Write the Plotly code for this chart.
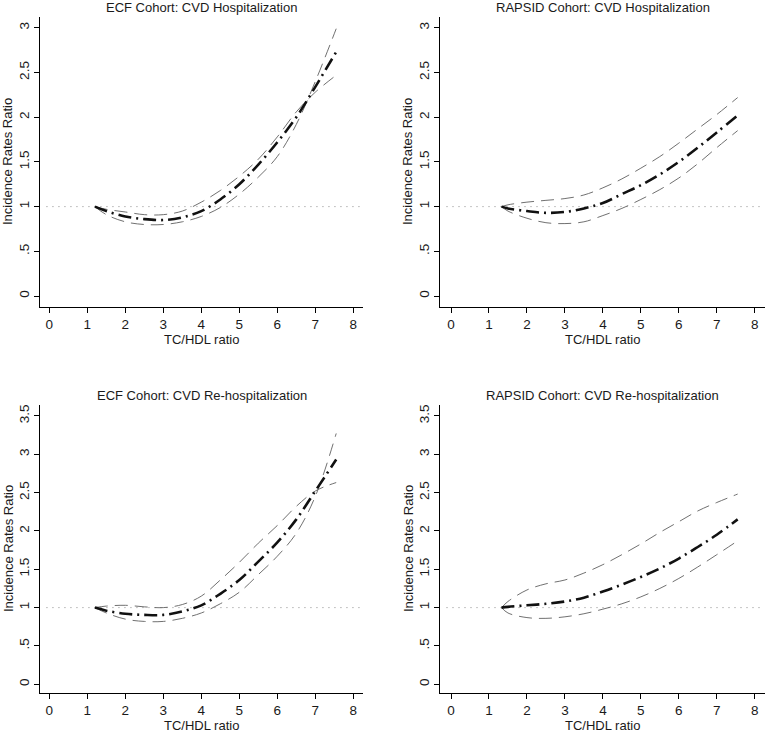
import plotly.graph_objects as go

# ---------------- data ----------------
x_ecf = [1.2, 1.5, 2, 2.5, 3, 3.5, 4, 4.5, 5, 5.5, 6, 6.5, 7, 7.55]
x_rap = [1.33, 1.5, 2, 2.5, 3, 3.5, 4, 4.5, 5, 5.5, 6, 6.5, 7, 7.55]

ecf_hosp_irr = [1.0, 0.95, 0.89, 0.86, 0.85, 0.88, 0.95, 1.08, 1.25, 1.47, 1.72, 2.0, 2.34, 2.73]
ecf_hosp_ci_a = [1.0, 0.97, 0.94, 0.91, 0.91, 0.95, 1.05, 1.18, 1.34, 1.53, 1.78, 2.06, 2.28, 2.47]
ecf_hosp_ci_b = [1.0, 0.91, 0.83, 0.80, 0.80, 0.83, 0.89, 0.99, 1.14, 1.33, 1.56, 1.92, 2.40, 2.99]

rap_hosp_irr = [1.0, 0.98, 0.95, 0.93, 0.94, 0.98, 1.04, 1.14, 1.24, 1.36, 1.50, 1.66, 1.83, 2.02]
rap_hosp_ci_a = [1.0, 1.02, 1.05, 1.07, 1.09, 1.13, 1.21, 1.31, 1.43, 1.56, 1.71, 1.87, 2.03, 2.22]
rap_hosp_ci_b = [1.0, 0.95, 0.87, 0.82, 0.81, 0.83, 0.90, 0.98, 1.08, 1.19, 1.32, 1.48, 1.66, 1.85]

ecf_rehosp_irr = [1.0, 0.96, 0.92, 0.905, 0.905, 0.95, 1.03, 1.18, 1.36, 1.60, 1.85, 2.15, 2.52, 2.93]
ecf_rehosp_ci_a = [1.0, 1.02, 1.03, 1.01, 1.0, 1.04, 1.15, 1.36, 1.59, 1.84, 2.07, 2.32, 2.52, 2.63]
ecf_rehosp_ci_b = [1.0, 0.93, 0.85, 0.82, 0.82, 0.86, 0.93, 1.05, 1.20, 1.43, 1.67, 1.97, 2.45, 3.27]

rap_rehosp_irr = [1.0, 1.01, 1.03, 1.05, 1.08, 1.13, 1.21, 1.30, 1.40, 1.51, 1.64, 1.79, 1.95, 2.15]
rap_rehosp_ci_a = [1.0, 1.08, 1.23, 1.31, 1.36, 1.45, 1.56, 1.69, 1.83, 1.98, 2.12, 2.26, 2.37, 2.48]
rap_rehosp_ci_b = [1.0, 0.93, 0.87, 0.86, 0.88, 0.92, 0.98, 1.05, 1.14, 1.25, 1.38, 1.53, 1.69, 1.87]

titles = ["ECF Cohort: CVD Hospitalization", "RAPSID Cohort: CVD Hospitalization",
          "ECF Cohort: CVD Re-hospitalization", "RAPSID Cohort: CVD Re-hospitalization"]
x_ticks = [0, 1, 2, 3, 4, 5, 6, 7, 8]
y_ticks_top = [0, 0.5, 1, 1.5, 2, 2.5, 3]
y_text_top = ["0", ".5", "1", "1.5", "2", "2.5", "3"]
y_ticks_bot = [0, 0.5, 1, 1.5, 2, 2.5, 3, 3.5]
y_text_bot = ["0", ".5", "1", "1.5", "2", "2.5", "3", "3.5"]
x_title = "TC/HDL ratio"
y_title = "Incidence Rates Ratio"

# ---------------- layout geometry ----------------
W, H = 766, 733
def fx(px): return px / W
def fy(py): return 1 - py / H

panels = [
    dict(x=x_ecf, c=ecf_hosp_irr, a=ecf_hosp_ci_a, b=ecf_hosp_ci_b,
         xd=[fx(40), fx(363)], yd=[fy(307), fy(17)], xr=[-0.245, 8.255], yr=[-0.123, 3.121],
         yt=y_ticks_top, ytt=y_text_top, top=17, bot=307, toff=32),
    dict(x=x_rap, c=rap_hosp_irr, a=rap_hosp_ci_a, b=rap_hosp_ci_b,
         xd=[fx(440), fx(765)], yd=[fy(307), fy(17)], xr=[-0.29, 8.27], yr=[-0.123, 3.121],
         yt=y_ticks_top, ytt=y_text_top, top=17, bot=307, toff=32),
    dict(x=x_ecf, c=ecf_rehosp_irr, a=ecf_rehosp_ci_a, b=ecf_rehosp_ci_b,
         xd=[fx(40), fx(363)], yd=[fy(693), fy(405)], xr=[-0.245, 8.255], yr=[-0.113, 3.641],
         yt=y_ticks_bot, ytt=y_text_bot, top=405, bot=693, toff=32),
    dict(x=x_rap, c=rap_rehosp_irr, a=rap_rehosp_ci_a, b=rap_rehosp_ci_b,
         xd=[fx(440), fx(765)], yd=[fy(693), fy(405)], xr=[-0.29, 8.27], yr=[-0.113, 3.641],
         yt=y_ticks_bot, ytt=y_text_bot, top=405, bot=693, toff=32),
]

FONT = "Liberation Sans, Arial, Helvetica, sans-serif"
fig = go.Figure()
layout = dict(width=W, height=H, margin=dict(l=0, r=0, t=0, b=0, autoexpand=False),
              paper_bgcolor="white", plot_bgcolor="white", showlegend=False,
              font=dict(family=FONT, size=13, color="#1a1a1a"))
annotations = []
shapes = []

for i, p in enumerate(panels):
    n = i + 1
    xa = "x" if n == 1 else f"x{n}"
    ya = "y" if n == 1 else f"y{n}"
    # CI lines
    for key in ("a", "b"):
        fig.add_trace(go.Scatter(x=p["x"], y=p[key], mode="lines", xaxis=xa, yaxis=ya,
                                 line=dict(color="#606060", width=0.9, dash="13px,7px", shape="spline"),
                                 hoverinfo="skip"))
    # IRR line
    fig.add_trace(go.Scatter(x=p["x"], y=p["c"], mode="lines", xaxis=xa, yaxis=ya,
                             line=dict(color="#111111", width=2.6, dash="13px,5px,2px,5px", shape="spline")))
    axcommon = dict(showgrid=False, zeroline=False, showline=True, linecolor="black", linewidth=1,
                    ticks="outside", ticklen=5, tickcolor="black", tickwidth=1, automargin=False,
                    tickfont=dict(family=FONT, size=13.5, color="#1a1a1a"))
    layout["xaxis" if n == 1 else f"xaxis{n}"] = dict(
        domain=p["xd"], range=p["xr"], anchor=ya, tickvals=x_ticks,
        ticktext=[str(t) for t in x_ticks], ticklabeloverflow="allow", **axcommon)
    layout["yaxis" if n == 1 else f"yaxis{n}"] = dict(
        domain=p["yd"], range=p["yr"], anchor=xa, tickvals=p["yt"], ticktext=p["ytt"],
        tickangle=-90, **axcommon)
    # reference line at 1
    shapes.append(dict(type="line", xref=f"{xa} domain", yref=ya, x0=0.02, x1=0.99, y0=1, y1=1,
                       line=dict(color="#8a8a8a", width=1, dash="1px,5px"), layer="below"))
    # titles
    xc = (p["xd"][0] + p["xd"][1]) / 2
    annotations.append(dict(text=titles[i], xref="paper", yref="paper", x=xc, y=fy(p["top"] - 10),
                            xanchor="center", yanchor="middle", showarrow=False,
                            font=dict(family=FONT, size=13, color="#1a1a1a")))
    annotations.append(dict(text=x_title, xref="paper", yref="paper", x=xc,
                            y=fy(p["bot"] + p["toff"]),
                            xanchor="center", yanchor="middle", showarrow=False,
                            font=dict(family=FONT, size=13, color="#1a1a1a")))
    ymid = fy((p["top"] + p["bot"]) / 2)
    yx = fx(p["xd"][0] * W - 32)
    annotations.append(dict(text=y_title, xref="paper", yref="paper", x=yx, y=ymid,
                            xanchor="center", yanchor="middle", showarrow=False, textangle=-90,
                            font=dict(family=FONT, size=13, color="#1a1a1a")))

layout["annotations"] = annotations
layout["shapes"] = shapes
fig.update_layout(**layout)
fig.write_html("out.html", config={"displayModeBar": False},
               post_script="document.body.style.margin='0';document.body.style.overflow='hidden';")
